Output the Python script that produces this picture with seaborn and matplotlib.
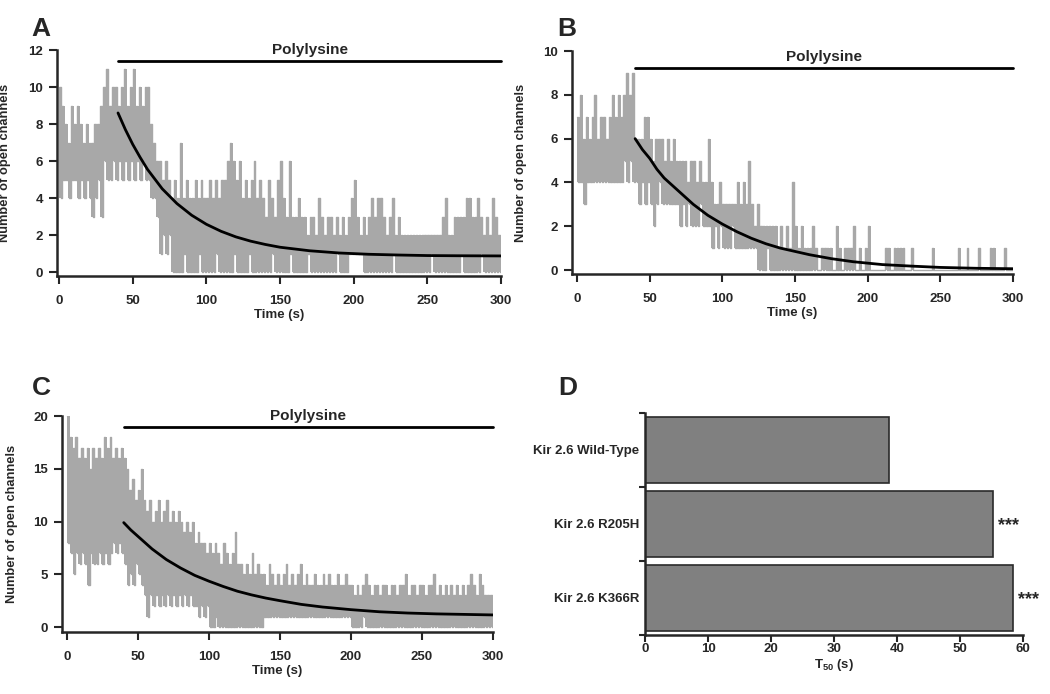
import numpy as np
import matplotlib
matplotlib.use("Agg")
import matplotlib.pyplot as plt
import seaborn as sns

# style
sns.set_style("ticks")
plt.rcParams["font.family"] = ["Liberation Sans", "DejaVu Sans"]
plt.rcParams["font.weight"] = "bold"
plt.rcParams["axes.labelweight"] = "bold"
plt.rcParams["mathtext.fontset"] = "custom"
plt.rcParams["mathtext.rm"] = "Liberation Sans:bold"
plt.rcParams["mathtext.bf"] = "Liberation Sans:bold"
plt.rcParams["mathtext.default"] = "bf"

GRAY = "#a8a8a8"
BIN = 2  # seconds per lo/hi pair

# ---- panel A: open channel count, min/max per 2 s ----
a_lo = [4, 5, 5, 4, 5, 5, 4, 5, 4, 5,
        4, 3, 4, 5, 3, 6, 5, 5, 6, 5,
        6, 5, 6, 5, 6, 5, 6, 5, 6, 5,
        5, 4, 4, 3, 1, 2, 1, 2, 0, 0,
        0, 0, 1, 0, 0, 0, 0, 1, 0, 0,
        0, 0, 0, 1, 0, 0, 0, 0, 0, 1,
        0, 0, 0, 0, 1, 0, 0, 0, 0, 0,
        0, 0, 1, 0, 0, 0, 0, 0, 1, 0,
        0, 0, 0, 0, 1, 0, 0, 0, 0, 0,
        0, 0, 0, 0, 1, 0, 0, 0, 1, 1,
        1, 1, 1, 0, 0, 0, 0, 0, 0, 0,
        0, 0, 0, 1, 0, 0, 0, 0, 0, 0,
        0, 0, 0, 0, 0, 0, 1, 0, 0, 0,
        0, 0, 0, 0, 0, 0, 1, 0, 0, 0,
        0, 0, 0, 1, 0, 0, 0, 0, 0, 0]
a_hi = [10, 9, 8, 7, 9, 8, 9, 8, 7, 8,
        7, 7, 8, 8, 9, 10, 11, 9, 10, 10,
        9, 10, 11, 9, 10, 11, 9, 10, 9, 10,
        10, 8, 7, 6, 6, 5, 6, 5, 4, 5,
        4, 7, 4, 5, 4, 4, 5, 4, 5, 4,
        4, 5, 4, 5, 4, 5, 5, 6, 7, 6,
        5, 6, 4, 5, 4, 5, 6, 4, 5, 4,
        3, 5, 4, 3, 5, 6, 4, 3, 6, 3,
        3, 4, 3, 3, 2, 3, 3, 2, 4, 3,
        2, 3, 3, 2, 3, 2, 3, 2, 3, 4,
        5, 3, 2, 3, 2, 3, 4, 3, 4, 4,
        3, 2, 3, 4, 2, 3, 2, 2, 2, 2,
        2, 2, 2, 2, 2, 2, 2, 2, 2, 2,
        3, 4, 2, 2, 3, 3, 3, 3, 4, 4,
        3, 3, 4, 3, 2, 3, 2, 4, 3, 2]
a_fit_t = [40, 45, 50, 55, 60, 70, 80, 90, 100, 110, 120, 130, 140, 150,
           170, 190, 210, 230, 250, 270, 300]
a_fit_v = [8.6, 7.7, 6.9, 6.2, 5.55, 4.5, 3.7, 3.07, 2.58, 2.2, 1.9, 1.67,
           1.49, 1.34, 1.15, 1.03, 0.96, 0.92, 0.89, 0.88, 0.87]

# ---- panel B ----
b_lo = [4, 4, 3, 4, 4, 4, 4, 4, 4, 4,
        4, 4, 4, 4, 4, 4, 5, 4, 5, 4,
        4, 3, 4, 3, 4, 3, 2, 3, 4, 3,
        3, 3, 3, 3, 3, 2, 3, 2, 3, 2,
        2, 2, 3, 2, 2, 2, 1, 2, 1, 2,
        1, 1, 1, 2, 1, 1, 1, 1, 1, 1,
        1, 1, 0, 0, 0, 1, 0, 0, 0, 0,
        0, 0, 0, 0, 0, 0, 0, 0, 0, 0,
        0, 0, 0, 0, 0, 0, 0, 0, 0, 0,
        0, 0, 0, 0, 0, 0, 0, 0, 0, 0,
        0, 0, 0, 0, 0, 0, 0, 0, 0, 0,
        0, 0, 0, 0, 0, 0, 0, 0, 0, 0,
        0, 0, 0, 0, 0, 0, 0, 0, 0, 0,
        0, 0, 0, 0, 0, 0, 0, 0, 0, 0,
        0, 0, 0, 0, 0, 0, 0, 0, 0, 0]
b_hi = [7, 8, 6, 7, 6, 7, 8, 6, 7, 7,
        6, 7, 8, 7, 8, 7, 8, 9, 8, 9,
        6, 6, 6, 7, 7, 6, 5, 6, 6, 6,
        5, 6, 5, 6, 5, 5, 5, 5, 4, 5,
        5, 4, 5, 4, 4, 6, 4, 3, 3, 4,
        3, 3, 3, 3, 3, 4, 3, 4, 3, 5,
        3, 2, 3, 2, 2, 2, 2, 2, 2, 1,
        2, 1, 2, 1, 4, 2, 1, 2, 1, 1,
        1, 2, 1, 0, 1, 1, 1, 1, 0, 2,
        1, 0, 1, 1, 1, 2, 0, 1, 0, 1,
        2, 0, 0, 0, 0, 0, 1, 1, 0, 1,
        1, 1, 1, 0, 0, 1, 0, 0, 0, 0,
        0, 0, 1, 0, 0, 0, 0, 0, 0, 0,
        0, 1, 0, 0, 1, 0, 0, 0, 1, 0,
        0, 0, 1, 1, 0, 0, 0, 1, 0, 0]
b_fit_t = [40, 45, 50, 55, 60, 70, 80, 90, 100, 110, 120, 130, 140, 150,
           160, 175, 190, 210, 230, 250, 275, 300]
b_fit_v = [6.0, 5.5, 5.1, 4.6, 4.2, 3.6, 3.0, 2.5, 2.1, 1.75, 1.45, 1.2,
           1.0, 0.85, 0.7, 0.52, 0.38, 0.25, 0.18, 0.12, 0.08, 0.06]

# ---- panel C ----
c_lo = [8, 7, 5, 7, 6, 7, 6, 4, 7, 6,
        6, 7, 6, 7, 6, 7, 8, 7, 8, 7,
        6, 4, 5, 4, 6, 5, 4, 3, 1, 3,
        2, 3, 2, 3, 2, 3, 2, 3, 2, 3,
        2, 3, 2, 3, 2, 2, 1, 2, 1, 2,
        0, 0, 1, 0, 0, 0, 0, 0, 0, 0,
        0, 0, 0, 0, 0, 0, 0, 0, 0, 1,
        1, 1, 1, 1, 1, 1, 1, 1, 1, 1,
        1, 1, 1, 1, 1, 1, 1, 1, 1, 1,
        1, 1, 1, 1, 1, 1, 1, 1, 1, 1,
        0, 0, 0, 0, 1, 0, 0, 0, 0, 0,
        0, 0, 0, 0, 0, 0, 0, 0, 0, 0,
        0, 0, 0, 0, 0, 0, 0, 0, 0, 0,
        0, 0, 0, 0, 0, 0, 0, 0, 0, 0,
        0, 0, 0, 0, 0, 0, 0, 0, 0, 0]
c_hi = [20, 18, 17, 18, 16, 17, 16, 17, 15, 17,
        16, 17, 16, 18, 17, 18, 16, 17, 16, 17,
        16, 15, 13, 14, 12, 13, 15, 12, 11, 12,
        10, 11, 12, 10, 11, 12, 10, 11, 10, 11,
        10, 9, 10, 9, 10, 8, 9, 8, 8, 7,
        8, 7, 8, 7, 6, 8, 7, 6, 7, 9,
        6, 6, 5, 6, 5, 7, 5, 6, 5, 5,
        4, 6, 5, 4, 5, 4, 5, 6, 4, 5,
        4, 5, 6, 4, 5, 4, 4, 5, 4, 4,
        5, 4, 5, 4, 4, 5, 4, 4, 5, 4,
        4, 3, 4, 3, 4, 5, 4, 3, 4, 4,
        3, 4, 4, 3, 4, 4, 3, 4, 4, 5,
        3, 4, 4, 3, 4, 4, 3, 4, 4, 5,
        3, 4, 3, 4, 3, 4, 3, 4, 3, 4,
        3, 4, 5, 4, 3, 5, 4, 3, 3, 3]
c_fit_t = [40, 45, 50, 55, 60, 70, 80, 90, 100, 110, 120, 130, 140, 150,
           165, 180, 200, 220, 240, 260, 280, 300]
c_fit_v = [9.9, 9.2, 8.6, 8.0, 7.4, 6.4, 5.6, 4.9, 4.35, 3.85, 3.4, 3.05,
           2.75, 2.5, 2.15, 1.9, 1.65, 1.45, 1.33, 1.25, 1.2, 1.15]

# ---- panel D ----
mutants = ["Kir 2.6 Wild-Type", "Kir 2.6 R205H", "Kir 2.6 K366R"]
t50 = [38.7, 55.2, 58.4]
stars = ["", "***", "***"]


fig = plt.figure(figsize=(10.5, 6.94), dpi=100)


def trace_xy(lo, hi):
    t = np.arange(len(lo)) * BIN
    x = np.column_stack([t, t + BIN / 2]).ravel()
    y = np.column_stack([hi, lo]).ravel()
    x = np.append(x, len(lo) * BIN)
    y = np.append(y, lo[-1])
    return x, y


def style_axis(ax):
    sns.despine(ax=ax)
    for s in ["left", "bottom"]:
        ax.spines[s].set_linewidth(1.8)
    ax.tick_params(width=1.5, length=6, labelsize=9.5, pad=4)


def trace_panel(rect, lo, hi, fit_t, fit_v, ymax, ystep, x0, y0, bar_y, letter, lx, ly):
    ax = fig.add_axes(rect)
    # dense recording drawn as its min/max band plus the raw step trace
    edges = np.arange(len(lo) + 1) * BIN
    ax.fill_between(edges, np.append(lo, lo[-1]), np.append(hi, hi[-1]),
                    step="post", color=GRAY, lw=0)
    x, y = trace_xy(lo, hi)
    sns.lineplot(x=x, y=y, ax=ax, color=GRAY, lw=1.0, drawstyle="steps-post",
                 estimator=None, sort=False)
    sns.lineplot(x=fit_t, y=fit_v, ax=ax, color="black", lw=2,
                 estimator=None, sort=False)
    ax.set_xlim(x0, 300)
    ax.set_ylim(y0, ymax)
    ax.set_xticks(range(0, 301, 50))
    ax.set_yticks(np.arange(0, ymax + 0.01, ystep))
    ax.set_xlabel("Time (s)", fontsize=9.5, labelpad=1)
    ax.set_ylabel("Number of open channels", fontsize=9.3)
    ax.yaxis.set_label_coords(-0.103, 0.5)
    style_axis(ax)
    ax.tick_params(axis="x", pad=8)
    # polylysine application bar
    ax.plot([40, 300], [bar_y, bar_y], color="black", lw=2, clip_on=False)
    ax.annotate("Polylysine", (170, bar_y), xytext=(0, 3), textcoords="offset points",
                ha="center", va="bottom", fontsize=11, fontweight="bold",
                annotation_clip=False)
    fig.text(lx, ly, letter, fontsize=19, fontweight="bold", ha="center", va="center")
    return ax


trace_panel([0.0543, 0.6027, 0.4229, 0.3252], a_lo, a_hi, a_fit_t, a_fit_v,
            12, 2, -1.4, -0.2, 11.4, "A", 41 / 1050, 1 - 29 / 694)
trace_panel([0.5448, 0.6052, 0.4200, 0.3213], b_lo, b_hi, b_fit_t, b_fit_v,
            10, 2, -3.4, -0.18, 9.22, "B", 567 / 1050, 1 - 29 / 694)
trace_panel([0.0590, 0.0893, 0.4105, 0.3112], c_lo, c_hi, c_fit_t, c_fit_v,
            20, 5, -3.5, -0.47, 18.96, "C", 41 / 1050, 1 - 388 / 694)

# ---- D: T50 bars ----
axd = fig.add_axes([0.6143, 0.085, 0.36, 0.32])
sns.barplot(x=t50, y=mutants, ax=axd, orient="h", color="#808080", width=0.89,
            edgecolor="#2a2a2a", linewidth=1.2, saturation=1)
for i, (v, s) in enumerate(zip(t50, stars)):
    if s:
        axd.text(v + 0.8, i + 0.02, s, ha="left", va="center", fontsize=13,
                 fontweight="bold")
axd.set_xlim(0, 60)
axd.set_ylim(2.5, -0.5)
axd.set_xticks(range(0, 61, 10))
axd.set_yticks([-0.5, 0.5, 1.5, 2.5], minor=True)
axd.set_xlabel(r"T$_{50}$ (s)", fontsize=9.5, labelpad=1)
axd.set_ylabel("")
style_axis(axd)
axd.tick_params(axis="y", which="major", length=0, pad=4)
axd.tick_params(axis="y", which="minor", length=4, width=1.5)
axd.tick_params(axis="x", length=5, pad=1)
fig.text(568 / 1050, 1 - 388 / 694, "D", fontsize=19, fontweight="bold",
         ha="center", va="center")

fig.savefig("out.png", dpi=100)
